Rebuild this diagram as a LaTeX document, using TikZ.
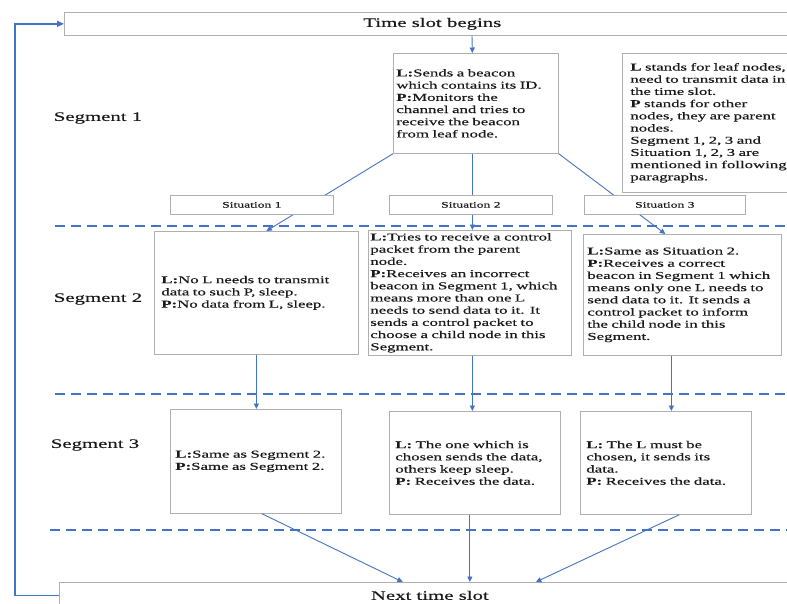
\documentclass[tikz,border=0pt]{standalone}
\usepackage{fontspec}
\setmainfont{Liberation Serif}[FakeStretch=1.6, FakeBold=0.3]
\usetikzlibrary{arrows.meta}
\definecolor{lineblue}{RGB}{68,114,196}
\definecolor{boxgray}{RGB}{175,175,175}
\definecolor{txt}{RGB}{25,25,25}
\begin{document}
\begin{tikzpicture}[x=1pt,y=-1pt,
  box/.style={draw=boxgray, line width=0.7pt, fill=white, anchor=north west, inner sep=0pt,
    align=left, text=txt, font=\fontsize{10.5}{12.2}\selectfont},
  titlebox/.style={draw=boxgray, line width=0.7pt, fill=white, anchor=north west, inner sep=0pt,
    text=txt, font=\fontsize{13}{15}\selectfont},
  sitbox/.style={draw=boxgray, line width=0.7pt, fill=white, anchor=north west, inner sep=0pt,
    text=txt, font=\fontsize{8.5}{10}\selectfont, minimum height=19pt},
  seglabel/.style={text=txt, font=\fontsize{13}{15}\selectfont},
  conn/.style={draw=lineblue, line width=0.9pt, -{Triangle[length=5.5pt,width=5pt]}},
  loopline/.style={draw=lineblue, line width=1.5pt, -{Triangle[length=7pt,width=6pt]}},
  divider/.style={draw=lineblue, line width=1.8pt, dash pattern=on 10pt off 6pt}]
\useasboundingbox (0,0) rectangle (787,603);
\clip (0,0) rectangle (787,603);

% dividers
\draw[divider] (55,226) -- (790,226);
\draw[divider] (55,394) -- (790,394);
\draw[divider] (50,530) -- (790,530);

% segment labels
\node[seglabel] (seg1) at (98,118) {Segment 1};
\node[seglabel] (seg2) at (98,299) {Segment 2};
\node[seglabel] (seg3) at (95,445) {Segment 3};

% top and bottom boxes
\node[titlebox, minimum width=736pt, minimum height=23pt] (top) at (64,12) {Time slot begins};
\node[titlebox, minimum width=741pt, minimum height=26pt] (next) at (59,582) {Next time slot};

% segment 1
\node[box, minimum width=165pt, minimum height=100pt, text width=159pt] (s1) at (393,53)
 {\textbf{L:}Sends a beacon\\ which contains its ID.\\ \textbf{P:}Monitors the\\ channel and tries to\\ receive the beacon\\ from leaf node.};
\node[box, minimum width=186pt, minimum height=139pt, text width=170pt] (legend) at (622,53)
 {\textbf{L} stands for leaf nodes,\\ need to transmit data in\\ the time slot.\\ \textbf{P} stands for other\\ nodes, they are parent\\ nodes.\\ Segment 1, 2, 3 and\\ Situation 1, 2, 3 are\\ mentioned in following\\ paragraphs.};

% segment 2
\node[box, minimum width=204pt, minimum height=123pt, text width=190pt] (b1) at (154,231)
 {\textbf{L:}No L needs to transmit\\ data to such P, sleep.\\ \textbf{P:}No data from L, sleep.};
\node[box, minimum width=203pt, minimum height=125pt, text width=199pt] (b2) at (368,230)
 {\textbf{L:}Tries to receive a control\\ packet from the parent\\ node.\\ \textbf{P:}Receives an incorrect\\ beacon in Segment 1, which\\ means more than one L\\ needs to send data to it. It\\ sends a control packet to\\ choose a child node in this\\ Segment.};
\node[box, minimum width=198pt, minimum height=121pt, text width=190pt] (b3) at (583,234)
 {\textbf{L:}Same as Situation 2.\\ \textbf{P:}Receives a correct\\ beacon in Segment 1 which\\ means only one L needs to\\ send data to it. It sends a\\ control packet to inform\\ the child node in this\\ Segment.};

% segment 3
\node[box, minimum width=171pt, minimum height=104pt, text width=161pt] (c1) at (170,409)
 {\textbf{L:}Same as Segment 2.\\ \textbf{P:}Same as Segment 2.};
\node[box, minimum width=171pt, minimum height=103pt, text width=159pt] (c2) at (389,411)
 {\textbf{L:} The one which is\\ chosen sends the data,\\ others keep sleep.\\ \textbf{P:} Receives the data.};
\node[box, minimum width=171pt, minimum height=103pt, text width=159pt] (c3) at (580,411)
 {\textbf{L:} The L must be\\ chosen, it sends its\\ data.\\ \textbf{P:} Receives the data.};

% connectors
\draw[conn] (top.south -| 472,0) -- ([xshift=-3.5pt]s1.north);
\draw[conn] (s1.south west) -- ([xshift=10pt]b1.north);
\draw[conn] ([xshift=-3.5pt]s1.south) -- ([xshift=-3.5pt]s1.south |- b2.north);
\draw[conn] (s1.south east) -- ([xshift=-17pt]b3.north);

\draw[conn] (b1.south) -- (b1.south |- c1.north);
\draw[conn] ([xshift=2.5pt]b2.south) -- ([xshift=2.5pt]b2.south |- c2.north);
\draw[conn] ([xshift=-11pt]b3.south) -- ([xshift=-11pt]b3.south |- c3.north);

\draw[conn] ([xshift=6pt]c1.south) -- ([xshift=-27pt]next.north);
\draw[conn] ([xshift=-5pt]c2.south) -- ([xshift=-5pt]c2.south |- next.north);
\draw[conn] ([xshift=13.5pt]c3.south) -- ([xshift=106pt]next.north);

\coordinate (loopx) at (15,300);
\draw[loopline] (next.west) -| (loopx) |- (top.west);

% situation boxes (over the connectors)
\node[sitbox, minimum width=163pt] (sit1) at (170,195) {Situation 1};
\node[sitbox, minimum width=163pt] (sit2) at (389,195) {Situation 2};
\node[sitbox, minimum width=161pt] (sit3) at (584,195) {Situation 3};
\end{tikzpicture}
\end{document}
